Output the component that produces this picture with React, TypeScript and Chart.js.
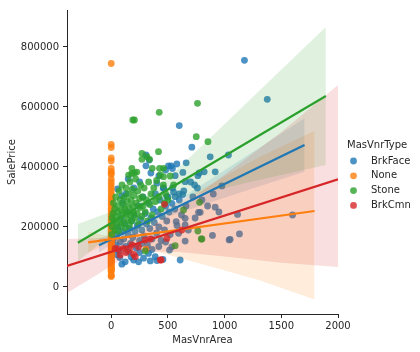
import React, { useEffect, useRef } from 'react';
import { Chart, registerables } from 'chart.js';

Chart.register(...registerables);

// ---------- data ----------
const legendTitle = 'MasVnrType';
const hueLevels = ['BrkFace', 'None', 'Stone', 'BrkCmn'];
const hueColors = ['31,119,180', '255,127,14', '44,160,44', '214,39,40'];

const xTicks = [0, 500, 1000, 1500, 2000];
const yTicks = [0, 200000, 400000, 600000, 800000];

const brkFaceX = [1175, 1376, 600, 711, 873, 1034, 917, 976, 785, 917, 1114, 1599, 893, 1049, 1131, 1040, 820, 776, 764, 661, 579, 529, 505, 632, 564, 735, 652, 550, 600, 630, 564, 535, 770, 652, 573, 652, 594, 652, 535, 514, 608, 306, 306, 335, 403, 461, 491, 56, 94,
  94, 123, 197, 241, 285, 344, 388, 329, 403, 456,
  20, 40, 50, 60, 70, 80, 90, 100, 110, 120, 130, 140, 150, 160, 170, 180, 190, 200, 210, 220, 230, 240, 250, 260, 270, 280, 290, 300, 310, 320, 330, 340, 350, 360, 370, 380, 390, 400, 410, 420, 430, 440, 450, 460, 470, 480, 490, 500, 510, 520, 540, 560, 580, 600, 620, 640, 660, 680, 700, 720, 740, 760, 800, 850, 900, 950,
  16, 45, 75, 150, 175, 268, 360, 420, 480, 250, 150, 200, 100, 130, 350, 420, 480, 540, 250];
const brkFaceY = [755600, 625600, 538000, 466000, 434000, 440000, 384000, 337000, 249000, 266000, 242000, 240000, 172000, 159000, 177000, 157000, 384000, 380000, 371000, 414000, 410000, 404000, 404000, 382000, 371000, 340000, 351000, 316000, 310000, 308000, 301000, 279000, 249000, 229000, 218000, 207000, 179000, 153000, 134000, 123000, 90000, 440000, 404000, 423000, 346000, 329000, 301000, 327000, 304000,
  76000, 84000, 90000, 84000, 96000, 87000, 101000, 112000, 88000, 92000,
  160000, 140000, 175000, 200000, 120000, 150000, 230000, 185000, 160000, 210000, 135000, 250000, 175000, 195000, 145000, 220000, 165000, 240000, 185000, 130000, 205000, 270000, 155000, 225000, 190000, 300000, 170000, 245000, 210000, 140000, 280000, 195000, 230000, 160000, 260000, 215000, 310000, 180000, 250000, 200000, 290000, 155000, 235000, 330000, 190000, 270000, 220000, 300000, 250000, 175000, 330000, 260000, 205000, 290000, 240000, 320000, 270000, 190000, 350000, 300000, 230000, 330000, 290000, 270000, 310000, 250000,
  128000, 108000, 98000, 118000, 100000, 145000, 125000, 135000, 150000, 350000, 360000, 330000, 280000, 310000, 380000, 370000, 390000, 395000, 115000];

const noneY = [34900, 37900, 40000, 52000, 55000, 58500, 60000, 62400, 67000, 68400, 72500, 75000, 79000, 82000, 85000, 87000, 89500, 91000, 94000, 97000, 100000, 103000, 106000, 109000, 112000, 115000, 118000, 121000, 124000, 127000, 130000, 133000, 136000, 139000, 142000, 145000, 148000, 151000, 154000, 157000, 160000, 163000, 166000, 169000, 172000, 175000, 178000, 181000, 184000, 187000, 190000, 194000, 198000, 202000, 206000, 210000, 215000, 220000, 225000, 230000, 236000, 242000, 248000, 255000, 262000, 270000, 278000, 285000, 293000, 300000, 310000, 320000, 330000, 340000, 350000, 360000, 375000, 380000, 385000, 395000, 420000, 430000, 465000, 475000, 745000, 126000];
const noneX = noneY.map((_, i) => (i === noneY.length - 1 ? 306 : 0));

const stoneX = [761, 423, 190, 205, 750, 853, 417, 271, 315, 338, 271, 362, 426, 461, 153, 180, 205, 226, 182, 432, 461, 779, 800, 638, 764, 794, 564, 300, 470,
  10, 15, 20, 25, 30, 35, 40, 45, 50, 55, 60, 65, 70, 75, 80, 85, 90, 95, 100, 105, 110, 115, 120, 125, 130, 135, 140, 145, 150, 155, 160, 165, 170, 175, 180, 185, 190, 195, 200, 210, 215, 220, 230, 235, 240, 250, 255, 260, 270, 275, 280, 290, 300, 310, 320, 330, 340, 350, 360, 375, 390, 400, 420, 440, 460, 480, 500, 520, 550, 5, 8];
const stoneY = [612300, 582300, 556700, 556700, 501000, 484300, 451000, 445600, 434300, 425600, 425600, 395600, 395600, 395600, 373000, 378000, 380000, 383000, 395600, 373300, 367600, 282300, 160000, 256600, 186600, 160000, 137600, 120000, 280000,
  200000, 245000, 280000, 220000, 260000, 190000, 300000, 235000, 210000, 270000, 250000, 185000, 320000, 225000, 290000, 205000, 255000, 340000, 240000, 275000, 215000, 300000, 260000, 195000, 330000, 245000, 285000, 225000, 310000, 265000, 205000, 350000, 240000, 290000, 220000, 325000, 270000, 250000, 305000, 230000, 360000, 280000, 245000, 320000, 210000, 295000, 265000, 340000, 235000, 300000, 270000, 330000, 250000, 290000, 220000, 350000, 275000, 310000, 240000, 330000, 285000, 355000, 300000, 260000, 340000, 310000, 290000, 370000, 340000, 175000, 230000];

const brkCmnX = [35, 64, 79, 108, 130, 161, 182, 197, 212, 241, 300, 344, 432, 441, 470, 491, 623];
const brkCmnY = [129000, 126600, 106600, 129000, 115000, 123000, 140000, 109000, 101000, 134000, 156600, 160000, 90000, 90000, 275600, 162000, 190000];

// regression lines (end points)
const brkFaceLineX = [-108, 1705];
const brkFaceLineY = [139000, 473300];
const noneLineX = [-203, 1793];
const noneLineY = [149000, 253300];
const stoneLineX = [-294, 1893];
const stoneLineY = [147700, 636700];
const brkCmnLineX = [-390, 2000];
const brkCmnLineY = [70000, 359000];

// confidence bands
const brkFaceBandX = [-108, 100, 250, 500, 900, 1300, 1705];
const brkFaceBandLo = [116000, 165400, 197000, 234000, 285000, 334600, 384300];
const brkFaceBandHi = [162000, 189400, 213000, 268000, 365000, 462600, 562300];
const noneBandX = [-203, 0, 200, 500, 900, 1300, 1793];
const noneBandLo = [113000, 151600, 138100, 107800, 65700, 23600, -42000];
const noneBandHi = [185000, 167600, 202100, 263800, 347700, 431600, 521000];
const stoneBandX = [-294, 0, 250, 500, 900, 1400, 1893];
const stoneBandLo = [86000, 175000, 254000, 287000, 322000, 365000, 407000];
const stoneBandHi = [210000, 251000, 284000, 363000, 507000, 688000, 867000];
const brkCmnBandX = [-390, -100, 100, 300, 600, 1000, 1500, 2000];
const brkCmnBandLo = [-20000, 47000, 95000, 119000, 117000, 102000, 81000, 67000];
const brkCmnBandHi = [160000, 163000, 164000, 188000, 263000, 374000, 517000, 673000];

// ---------- chart ----------
const TEXT = '#262626';
const FONT = '"DejaVu Sans", sans-serif';

const zip = (xs: number[], ys: number[]) => xs.map((x, i) => ({ x, y: ys[i] }));

const legendPlugin = {
  id: 'hueLegend',
  afterDraw(chart: any) {
    const ctx = chart.ctx;
    ctx.save();
    ctx.font = `10px ${FONT}`;
    ctx.textBaseline = 'middle';
    ctx.textAlign = 'left';
    ctx.fillStyle = TEXT;
    ctx.fillText(legendTitle, 347, 145);
    hueLevels.forEach((name, i) => {
      const y = 161 + i * 14.8;
      ctx.beginPath();
      ctx.arc(353.5, y, 3.4, 0, Math.PI * 2);
      ctx.fillStyle = `rgba(${hueColors[i]},0.8)`;
      ctx.fill();
      ctx.fillStyle = TEXT;
      ctx.fillText(name, 371, y);
    });
    ctx.restore();
  },
};

export default function App() {
  const ref = useRef<HTMLCanvasElement | null>(null);

  useEffect(() => {
    if (!ref.current) return;
    const series = [
      { xs: brkFaceX, ys: brkFaceY, lx: brkFaceLineX, ly: brkFaceLineY, bx: brkFaceBandX, lo: brkFaceBandLo, hi: brkFaceBandHi },
      { xs: noneX, ys: noneY, lx: noneLineX, ly: noneLineY, bx: noneBandX, lo: noneBandLo, hi: noneBandHi },
      { xs: stoneX, ys: stoneY, lx: stoneLineX, ly: stoneLineY, bx: stoneBandX, lo: stoneBandLo, hi: stoneBandHi },
      { xs: brkCmnX, ys: brkCmnY, lx: brkCmnLineX, ly: brkCmnLineY, bx: brkCmnBandX, lo: brkCmnBandLo, hi: brkCmnBandHi },
    ];
    const datasets: any[] = [];
    let ord = 100;
    series.forEach((s, i) => {
      const c = hueColors[i];
      datasets.push({
        type: 'scatter', label: hueLevels[i], data: zip(s.xs, s.ys),
        backgroundColor: `rgba(${c},0.8)`, borderWidth: 0, pointRadius: 3.4, order: ord--,
      });
      const loIdx = datasets.length;
      datasets.push({
        type: 'line', data: zip(s.bx, s.lo), borderWidth: 0, borderColor: 'rgba(0,0,0,0)',
        pointRadius: 0, fill: false, order: ord,
      });
      datasets.push({
        type: 'line', data: zip(s.bx, s.hi), borderWidth: 0, borderColor: 'rgba(0,0,0,0)',
        pointRadius: 0, fill: { target: loIdx }, backgroundColor: `rgba(${c},0.15)`, order: ord--,
      });
    });
    series.forEach((s, i) => {
      datasets.push({
        type: 'line', data: zip(s.lx, s.ly), borderColor: `rgb(${hueColors[i]})`, borderWidth: 2.2,
        pointRadius: 0, fill: false, order: 4 - i,
      });
    });

    Chart.defaults.font.family = FONT;
    const chart = new Chart(ref.current, {
      type: 'scatter',
      data: { datasets },
      plugins: [legendPlugin],
      options: {
        animation: false,
        responsive: false,
        events: [],
        layout: { padding: { left: 0, top: 10, right: 82, bottom: 0 } },
        plugins: { legend: { display: false }, tooltip: { enabled: false } },
        scales: {
          x: {
            type: 'linear', min: -390, max: 2000,
            afterBuildTicks: (s: any) => { s.ticks = xTicks.map((v) => ({ value: v })); },
            afterFit: (s: any) => { s.height = 38; s.paddingLeft = 0; s.paddingRight = 0; },
            grid: { drawOnChartArea: false, drawTicks: true, tickLength: 4, color: TEXT },
            border: { color: TEXT, width: 1 },
            ticks: { color: TEXT, padding: 2, font: { size: 10 }, maxRotation: 0, autoSkip: false, callback: (v: any) => String(v) },
            title: { display: true, text: 'MasVnrArea', color: TEXT, font: { size: 10 }, padding: { top: 0, bottom: 6 } },
          },
          y: {
            type: 'linear', min: -90000, max: 923333,
            afterBuildTicks: (s: any) => { s.ticks = yTicks.map((v) => ({ value: v })); },
            afterFit: (s: any) => { s.width = 67; s.paddingTop = 0; s.paddingBottom = 0; },
            grid: { drawOnChartArea: false, drawTicks: true, tickLength: 4, color: TEXT },
            border: { color: TEXT, width: 1 },
            ticks: { color: TEXT, padding: 4, font: { size: 10 }, autoSkip: false, callback: (v: any) => String(v) },
            title: { display: true, text: 'SalePrice', color: TEXT, font: { size: 10 }, padding: { top: 6, bottom: 0 } },
          },
        },
      } as any,
    });
    return () => chart.destroy();
  }, []);

  return (
    <div style={{ position: 'fixed', left: 0, top: 0, width: 420, height: 352, background: '#fff' }}>
      <canvas ref={ref} width={420} height={352} style={{ display: 'block', width: 420, height: 352 }} />
    </div>
  );
}
